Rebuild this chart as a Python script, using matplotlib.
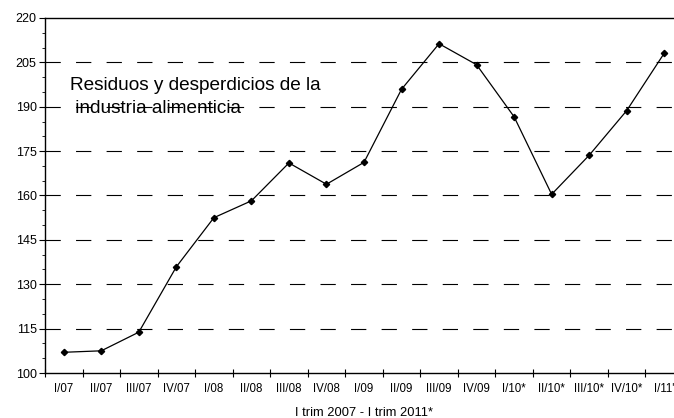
import numpy as np
import matplotlib
matplotlib.use("Agg")
import matplotlib.pyplot as plt
from matplotlib.ticker import MultipleLocator

# quarterly index values
quarters = ["I/07", "II/07", "III/07", "IV/07", "I/08", "II/08", "III/08", "IV/08",
            "I/09", "II/09", "III/09", "IV/09", "I/10*", "II/10*", "III/10*", "IV/10*", "I/11'"]
values = [107.0, 107.5, 113.8, 135.9, 152.5, 158.2, 171.0, 163.8,
          171.2, 195.9, 211.3, 204.2, 186.6, 160.4, 173.6, 188.7, 208.1]
y_ticks = [100, 115, 130, 145, 160, 175, 190, 205, 220]
title_lines = ["Residuos y desperdicios de la", " industria alimenticia"]

plt.rcParams["font.family"] = ["Liberation Sans", "DejaVu Sans"]
plt.rcParams["lines.scale_dashes"] = False

W, H, DPI = 674, 418, 100
fig = plt.figure(figsize=(W / DPI, H / DPI), dpi=DPI)
# axis runs past the right edge, like the cropped original
ax = fig.add_axes([45 / W, (H - 373) / H, 638 / W, 355 / H])

x = np.arange(len(quarters))
ax.set_xlim(-0.5, len(quarters) - 0.5)
ax.set_ylim(100, 220)

for v in y_ticks[1:-1]:
    ax.axhline(v, color="black", lw=0.8, dashes=(11, 11), zorder=1)

ax.plot(x, values, color="black", lw=0.9, marker="D", markersize=3.2, zorder=3)

ax.set_yticks(y_ticks)
ax.yaxis.set_minor_locator(MultipleLocator(5))
ax.tick_params(axis="y", which="major", labelsize=9, length=4, width=0.8, pad=2)
ax.tick_params(axis="y", which="minor", length=2, width=0.6)

ax.set_xticks(x)
ax.set_xticklabels(quarters)
ax.set_xticks(np.arange(-0.5, len(quarters)), minor=True)
ax.tick_params(axis="x", which="major", length=0, labelsize=8.3, pad=7)
ax.tick_params(axis="x", which="minor", direction="inout", length=6, width=0.8)

for s in ["left", "bottom", "top"]:
    ax.spines[s].set_linewidth(1.0)
ax.spines["right"].set_visible(False)

# axis title sits right at the bottom edge in the original
fig.text(364 / W, 1 - 415.5 / H, "I trim 2007 - I trim 2011*", fontsize=9.3,
         ha="center", va="baseline")

# two-line label inside the plot, baselines at pixel rows 90 and 113
for line, base in zip(title_lines, [90.5, 113]):
    fig.text(70.5 / W, 1 - base / H, line, fontsize=13.7, ha="left", va="baseline",
             zorder=2)

fig.savefig("out.png", dpi=DPI)
plt.close(fig)
